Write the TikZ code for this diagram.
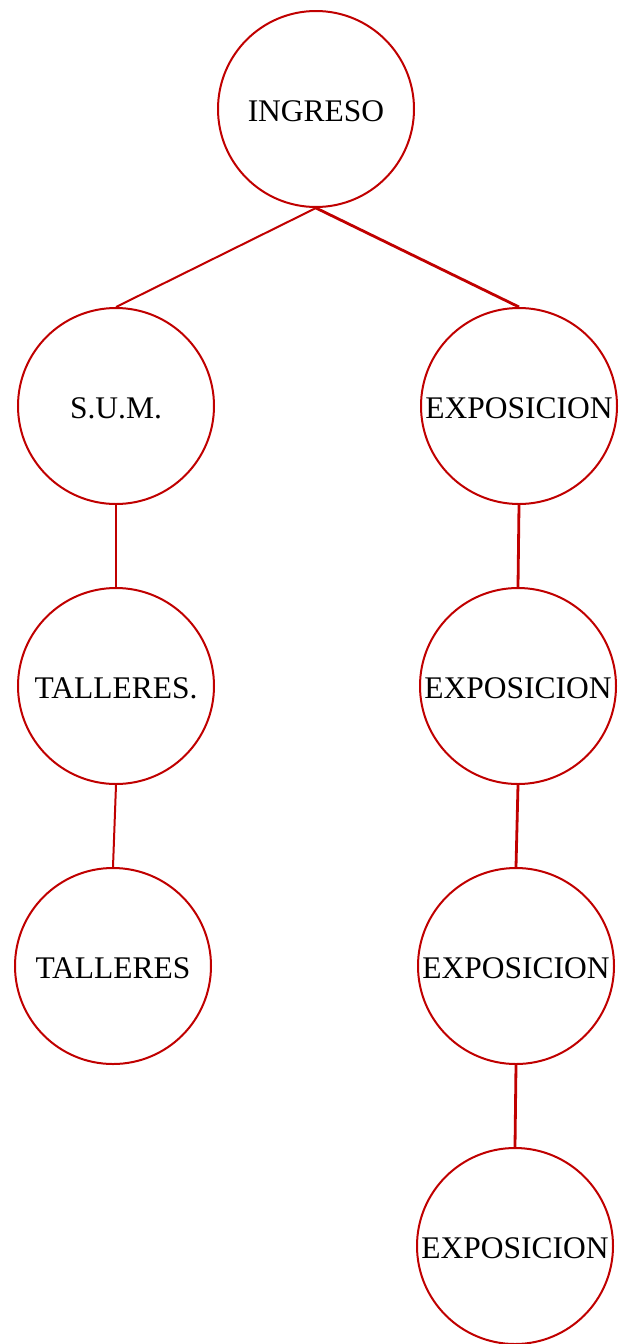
\documentclass[tikz,border=0pt]{standalone}
\usepackage{fontspec}
\setmainfont{Liberation Serif}
\usepackage{tikz}
\definecolor{treered}{HTML}{C00000}
\tikzset{place/.style={circle, draw=treered, line width=2pt, minimum size=196pt, inner sep=0pt, text height=25pt, text depth=0pt, font=\fontsize{31.5}{36}\selectfont}}
\tikzset{link/.style={draw=treered, line width=2pt}}
\tikzset{thick-link/.style={draw=treered, line width=2.8pt}}

\begin{document}
\begin{tikzpicture}[x=1pt, y=1pt]
      \useasboundingbox (0, 0) rectangle (620, -1344);

      \node[place] (ingreso) at (316, -109) {INGRESO};
      \node[place] (sum) at (116, -406) {S.U.M.};
      \node[place] (talleresA) at (116, -686) {TALLERES.};
      \node[place] (talleresB) at (113, -966) {TALLERES};
      \node[place] (expoA) at (519, -406) {EXPOSICION};
      \node[place] (expoB) at (518, -686) {EXPOSICION};
      \node[place] (expoC) at (516, -966) {EXPOSICION};
      \node[place] (expoD) at (515, -1246) {EXPOSICION};

      \draw[link] (ingreso.south) -- (sum.north);
      \draw[thick-link] (ingreso.south) -- (expoA.north);
      \draw[link] (sum.south) -- (talleresA.north);
      \draw[link] (talleresA.south) -- (talleresB.north);
      \draw[thick-link] (expoA.south) -- (expoB.north);
      \draw[thick-link] (expoB.south) -- (expoC.north);
      \draw[thick-link] (expoC.south) -- (expoD.north);

    \end{tikzpicture}
\end{document}
